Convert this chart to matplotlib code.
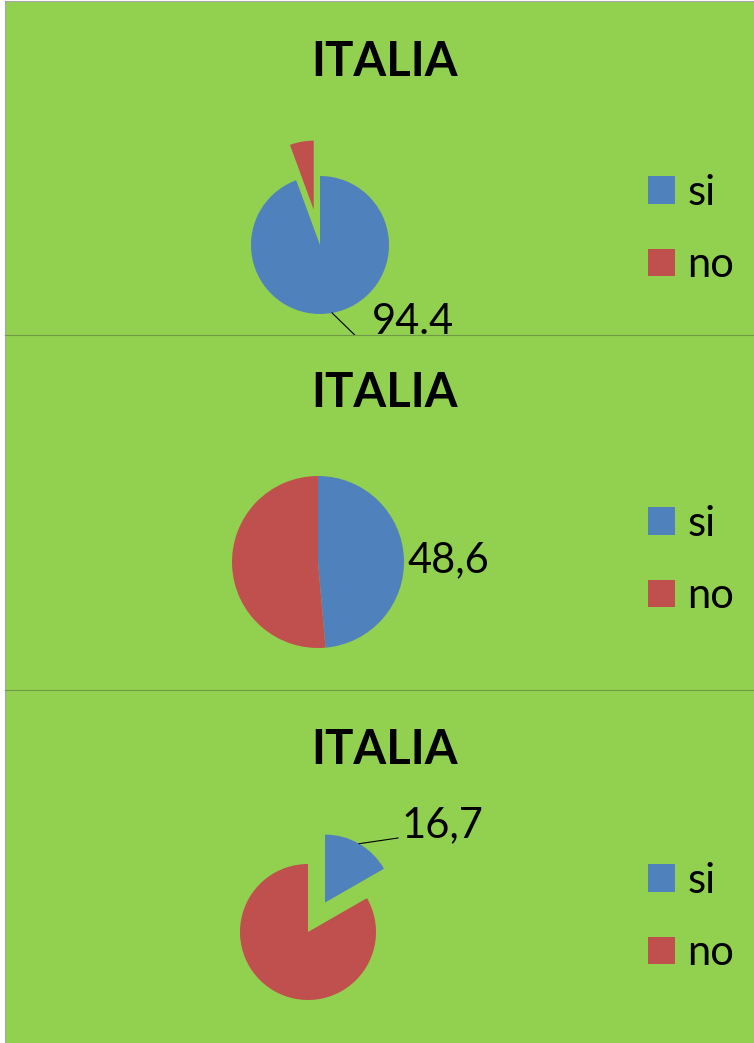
import numpy as np
import matplotlib.pyplot as plt

plt.rcParams['font.family'] = ['Lato', 'DejaVu Sans']

# data
legend_labels = ['si', 'no']
values_1 = [94.4, 5.6]
values_2 = [48.6, 51.4]
values_3 = [16.7, 83.3]
value_labels = ['94.4', '48,6', '16,7']
title = 'ITALIA'

# colours
green = '#92D050'
blue = '#4F81BD'
red = '#C0504D'

W, H = 754, 1043
fig = plt.figure(figsize=(W / 100, H / 100), dpi=100)

# layout, in picture pixels (y measured from the top)
panel_y = [(1, 335), (335, 690), (690, 1043)]
pie_center = [(320, 245), (318, 562), (308, 932)]
pie_radius = [69, 86, 68]
pie_explode = [[0, 0.52], [0, 0], [0.5, 0]]   # fraction of the radius
title_y = [62, 393, 750]
legend_y = [229, 560, 917]
label_pos = [(372, 322), (407, 560), (402, 825)]
leader_end = [(364, 344), None, (398, 838)]
top_colour = ['#a6a6a6', '#6f9a45', '#6f9a45']


def Y(y):
    return H - y


for i, values in enumerate([values_1, values_2, values_3]):
    y0, y1 = panel_y[i]
    ax = fig.add_axes([5 / W, 1 - y1 / H, (W - 5) / W, (y1 - y0) / H])
    cx, cy = pie_center[i]
    r = pie_radius[i]
    wedges, _ = ax.pie(values, colors=[blue, red], startangle=90, counterclock=False,
                       explode=[e * r for e in pie_explode[i]], radius=r,
                       center=(cx, Y(cy)), wedgeprops=dict(linewidth=0))

    ax.set_xlim(5, W)
    ax.set_ylim(Y(y1), Y(y0))
    ax.set_aspect('equal', adjustable='box')
    ax.set_frame_on(True)
    ax.set_facecolor(green)
    ax.set_xticks([])
    ax.set_yticks([])
    ax.spines['right'].set_visible(False)
    ax.spines['bottom'].set_visible(False)
    ax.spines['left'].set_color('#a6a6a6')
    ax.spines['top'].set_color(top_colour[i])

    ax.text(385, Y(title_y[i]), title, ha='center', va='center',
            fontsize=34, fontweight='bold')

    # data label for "si"
    w = wedges[0]
    mid = np.deg2rad((w.theta1 + w.theta2) / 2)
    ex, ey = w.center
    edge = (ex + r * np.cos(mid), ey + r * np.sin(mid))
    tx, ty = label_pos[i]
    ax.text(tx, Y(ty), value_labels[i], ha='left', va='center', fontsize=30)
    if leader_end[i] is not None:
        lx, ly = leader_end[i]
        ax.plot([edge[0], lx], [edge[1], Y(ly)], color='black', lw=0.8)

    ax.legend(wedges, legend_labels, loc='center left',
              bbox_to_anchor=(648, Y(legend_y[i])), bbox_transform=ax.transData,
              frameon=False, fontsize=30, handlelength=0.65, handleheight=0.65,
              handletextpad=0.3, labelspacing=0.82, borderpad=0, borderaxespad=0)

fig.savefig('out.png', dpi=100, facecolor='white')
